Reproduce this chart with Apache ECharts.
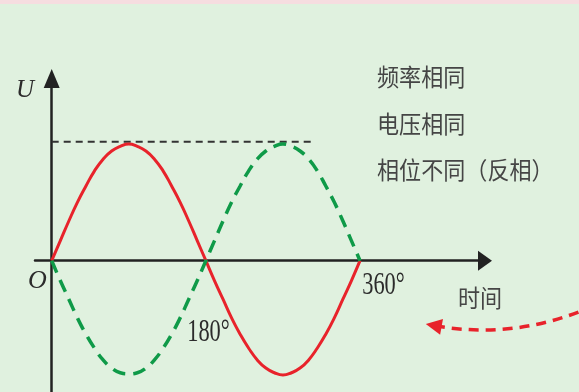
<!DOCTYPE html>
<html>
<head>
<meta charset="utf-8">
<script src="https://cdn.jsdelivr.net/npm/echarts@6/dist/echarts.min.js"></script>
<style>
html,body{margin:0;padding:0;background:#e0f1df;}
#main{width:579px;height:392px;}
</style>
</head>
<body>
<div id="main"></div>
<script>
// 相位角（度）
var phaseDeg = [0,10,20,30,40,50,60,70,80,90,100,110,120,130,140,150,160,170,180,
	190,200,210,220,230,240,250,260,270,280,290,300,310,320,330,340,350,360];
// 红色实线（原电压）
var voltageA = [0,0.17,0.34,0.5,0.64,0.77,0.87,0.94,0.98,1,0.98,0.94,0.87,0.77,0.64,0.5,0.34,0.17,0,
	-0.17,-0.33,-0.49,-0.63,-0.75,-0.85,-0.92,-0.96,-0.98,-0.96,-0.92,-0.85,-0.75,-0.63,-0.49,-0.33,-0.17,0];
// 绿色虚线（反相电压）
var voltageB = [0,-0.17,-0.33,-0.49,-0.63,-0.75,-0.85,-0.92,-0.96,-0.97,-0.96,-0.92,-0.85,-0.75,-0.63,-0.49,-0.33,-0.17,0,
	0.17,0.34,0.5,0.64,0.77,0.87,0.94,0.98,1,0.98,0.94,0.87,0.77,0.64,0.5,0.34,0.17,0];
// 峰值虚线
var peakX = [0, 305];
var peakY = [1.02, 1.02];
// 红色虚线箭头（起点、终点）
var arrowFrom = [615, -0.44];
var arrowTo = [446, -0.555];
// 文字
var notes = ['频率相同', '电压相同', '相位不同（反相）'];
var tickText = ['180°', '360°'];

function zip(xs, ys) {
	var out = [];
	for (var i = 0; i < xs.length; i++) {
		out.push([xs[i], ys[i]]);
	}
	return out;
}

var myChart = echarts.init(document.getElementById('main'), null, {renderer: 'canvas'});

var serifNum = function (txt, cx, cy) {
	return {
		type: 'text', x: cx, y: cy, scaleX: 0.7,
		style: {text: txt, x: 0, y: 0, fill: '#2b2b2b', font: '32px "Liberation Serif"',
			align: 'center', verticalAlign: 'middle'}
	};
};
var cjk = function (txt, lx, cy) {
	return {
		type: 'text', x: lx, y: cy, scaleX: 0.92,
		style: {text: txt, x: 0, y: 0, fill: '#454545', font: '24px "Noto Sans CJK SC"',
			align: 'left', verticalAlign: 'middle'}
	};
};

myChart.setOption({
	backgroundColor: '#e0f1df',
	animation: false,
	grid: {left: 35, right: 94, top: 78.5, bottom: 0, containLabel: false},
	xAxis: {
		type: 'value', min: -19.5, max: 505.9,
		axisLine: {show: true, onZero: true, symbol: ['none', 'triangle'], symbolSize: [20, 14],
			lineStyle: {color: '#222', width: 2.5}},
		axisTick: {show: false}, axisLabel: {show: false}, splitLine: {show: false}
	},
	yAxis: {
		type: 'value', min: -1.125, max: 1.561,
		axisLine: {show: true, onZero: true, symbol: ['none', 'triangle'], symbolSize: [16, 19],
			lineStyle: {color: '#222', width: 2.5}},
		axisTick: {show: false}, axisLabel: {show: false}, splitLine: {show: false}
	},
	series: [
		{
			type: 'line', data: zip(peakX, peakY), symbol: 'none', z: 1,
			lineStyle: {color: '#333', width: 2, type: [7, 5]}
		},
		{
			type: 'line', data: zip(phaseDeg, voltageA), symbol: 'none', smooth: true, z: 3,
			lineStyle: {color: '#e8232b', width: 3}
		},
		{
			type: 'line', data: zip(phaseDeg, voltageB), symbol: 'none', smooth: true, z: 3,
			lineStyle: {color: '#0f9a48', width: 3.5, type: [13, 8]}
		},
		{
			type: 'lines', coordinateSystem: 'cartesian2d', clip: false, polyline: false,
			symbol: ['none', 'triangle'], symbolSize: [20, 16],
			lineStyle: {color: '#e8232b', width: 3.5, type: [10, 7], curveness: 0.14, opacity: 1},
			data: [{coords: [arrowFrom, arrowTo]}]
		}
	],
	graphic: [
		{type: 'rect', shape: {x: 0, y: 0, width: 579, height: 4}, style: {fill: '#f6dde0'}, z: 10},
		{type: 'text', x: 25, y: 90.5, style: {text: 'U', fill: '#2b2b2b',
			font: 'italic 25px "Liberation Serif"', align: 'center', verticalAlign: 'middle'}},
		{type: 'text', x: 37.5, y: 281, style: {text: 'O', fill: '#2b2b2b',
			font: 'italic 26px "Liberation Serif"', align: 'center', verticalAlign: 'middle'}},
		serifNum(tickText[0], 208.5, 332.5),
		serifNum(tickText[1], 383.5, 285.5),
		cjk('时间', 458, 297.5),
		cjk(notes[0], 377, 77),
		cjk(notes[1], 377, 123.5),
		cjk(notes[2], 377, 169.5)
	]
});
</script>
</body>
</html>
